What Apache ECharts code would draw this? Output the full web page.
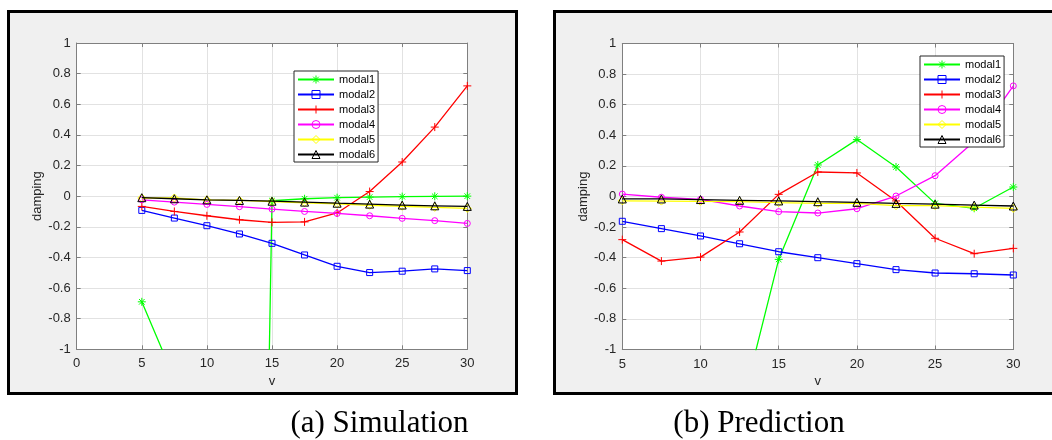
<!DOCTYPE html>
<html><head><meta charset="utf-8">
<script src="https://cdn.jsdelivr.net/npm/echarts@6.0.0/dist/echarts.min.js"></script>
<style>html,body{margin:0;padding:0;background:#fff}#c{width:1052px;height:440px}</style>
</head><body><div id="c"></div>
<script>
// ---- data ----
const vValues = [5, 7.5, 10, 12.5, 15, 17.5, 20, 22.5, 25, 27.5, 30];
const modalNames = ['modal1', 'modal2', 'modal3', 'modal4', 'modal5', 'modal6'];
const captions = ['(a) Simulation', '(b) Prediction'];
const xAxisName = 'v';
const yAxisName = 'damping';

// (a) Simulation
const simModal1 = [-0.69, -1.19, -3.0, -12.0, -0.03, -0.017, -0.01, -0.006, -0.003, -0.001, 0.0];
const simModal2 = [-0.093, -0.143, -0.193, -0.247, -0.308, -0.384, -0.458, -0.499, -0.49, -0.475, -0.486];
const simModal3 = [-0.067, -0.1, -0.128, -0.154, -0.171, -0.168, -0.11, 0.03, 0.223, 0.451, 0.72];
const simModal4 = [-0.024, -0.039, -0.054, -0.069, -0.085, -0.1, -0.113, -0.128, -0.145, -0.16, -0.178];
const simModal5 = [-0.012, -0.012, -0.024, -0.028, -0.035, -0.043, -0.05, -0.06, -0.066, -0.073, -0.08];
const simModal6 = [-0.01, -0.017, -0.024, -0.028, -0.033, -0.039, -0.046, -0.052, -0.058, -0.063, -0.067];

// (b) Prediction
const predModal1 = [-2.2, -2.0, -1.8, -1.43, -0.411, 0.206, 0.372, 0.193, -0.045, -0.077, 0.062];
const predModal2 = [-0.162, -0.21, -0.258, -0.309, -0.361, -0.4, -0.439, -0.478, -0.5, -0.505, -0.513];
const predModal3 = [-0.282, -0.422, -0.396, -0.232, 0.014, 0.16, 0.154, -0.029, -0.273, -0.374, -0.339];
const predModal4 = [0.016, -0.005, -0.019, -0.062, -0.099, -0.108, -0.08, 0.003, 0.136, 0.36, 0.723];
const predModal5 = [-0.028, -0.03, -0.032, -0.033, -0.04, -0.045, -0.045, -0.06, -0.06, -0.07, -0.078];
const predModal6 = [-0.016, -0.016, -0.02, -0.025, -0.029, -0.034, -0.038, -0.045, -0.05, -0.056, -0.062];

const simData = [simModal1, simModal2, simModal3, simModal4, simModal5, simModal6];
const predData = [predModal1, predModal2, predModal3, predModal4, predModal5, predModal6];

// ---- styles ----
const modalStyles = [
  {color: '#00ff00', symbol: 'path://M0,-10L0,10M-10,0L10,0M-7,-7L7,7M-7,7L7,-7', size: 8},
  {color: '#0000ff', symbol: 'rect', size: 6},
  {color: '#ff0000', symbol: 'path://M0,-10L0,10M-10,0L10,0', size: 8},
  {color: '#ff00ff', symbol: 'circle', size: 6},
  {color: '#ffff00', symbol: 'diamond', size: 8},
  {color: '#000000', symbol: 'triangle', size: 8}
];

const FONT = 'Liberation Sans';
const axisGray = '#7f7f7f';

function makeSeries(arr, i, g) {
  const s = modalStyles[i];
  return {
    name: modalNames[i], type: 'line',
    xAxisIndex: g * 2, yAxisIndex: g * 2,
    data: vValues.map((v, k) => [v, arr[k]]),
    symbol: s.symbol, symbolSize: s.size, showAllSymbol: true, clip: true,
    lineStyle: {color: s.color, width: 1.3},
    itemStyle: {color: 'rgba(0,0,0,0)', borderColor: s.color, borderWidth: 1},
    emphasis: {disabled: true},
    z: 2 + i * 0.1
  };
}

function xAxes(g, min) {
  const base = {gridIndex: g, type: 'value', min: min, max: 30, interval: 5};
  return [
    Object.assign({}, base, {
      position: 'bottom',
      axisLine: {show: true, onZero: false, lineStyle: {color: axisGray, width: 1}},
      axisTick: {show: true, inside: true, length: 4, lineStyle: {color: axisGray}},
      axisLabel: {color: '#262626', fontSize: 13, fontFamily: FONT, margin: 8},
      splitLine: {show: true, lineStyle: {color: '#e2e2e2', width: 1}},
      name: xAxisName, nameLocation: 'middle', nameGap: 25,
      nameTextStyle: {color: '#262626', fontSize: 13, fontFamily: FONT}
    }),
    Object.assign({}, base, {
      position: 'top',
      axisLine: {show: true, onZero: false, lineStyle: {color: axisGray, width: 1}},
      axisTick: {show: true, inside: true, length: 4, lineStyle: {color: axisGray}},
      axisLabel: {show: false}, splitLine: {show: false}
    })
  ];
}
function yAxes(g) {
  const base = {gridIndex: g, type: 'value', min: -1, max: 1, interval: 0.2};
  return [
    Object.assign({}, base, {
      position: 'left',
      axisLine: {show: true, onZero: false, lineStyle: {color: axisGray, width: 1}},
      axisTick: {show: true, inside: true, length: 4, lineStyle: {color: axisGray}},
      axisLabel: {color: '#262626', fontSize: 13, fontFamily: FONT, margin: 6},
      splitLine: {show: true, lineStyle: {color: '#e2e2e2', width: 1}},
      name: yAxisName, nameLocation: 'middle', nameGap: 28, nameRotate: 90,
      nameTextStyle: {color: '#262626', fontSize: 13, fontFamily: FONT}
    }),
    Object.assign({}, base, {
      position: 'right',
      axisLine: {show: true, onZero: false, lineStyle: {color: axisGray, width: 1}},
      axisTick: {show: true, inside: true, length: 4, lineStyle: {color: axisGray}},
      axisLabel: {show: false}, splitLine: {show: false}
    })
  ];
}

function legendAt(left, top) {
  return {
    data: modalNames, left: left, top: top, orient: 'vertical', z: 30,
    itemWidth: 36, itemHeight: 10, itemGap: 4,
    padding: [3, 3, 2, 3],
    backgroundColor: '#ffffff', borderColor: '#262626', borderWidth: 1,
    itemStyle: {color: 'rgba(0,0,0,0)', borderWidth: 1},
    textStyle: {fontSize: 11, color: '#000', fontFamily: FONT},
    selectedMode: false
  };
}

const chart = echarts.init(document.getElementById('c'), null, {renderer: 'canvas'});
chart.setOption({
  animation: false,
  backgroundColor: '#ffffff',
  graphic: [
    {type: 'rect', z: -10, shape: {x: 8.5, y: 11.5, width: 508, height: 382},
     style: {fill: '#f0f0f0', stroke: '#000', lineWidth: 3}},
    {type: 'rect', z: -10, shape: {x: 554.5, y: 11.5, width: 520, height: 382},
     style: {fill: '#f0f0f0', stroke: '#000', lineWidth: 3}},
    {type: 'text', z: 10, x: 379.5, y: 424,
     style: {text: captions[0], fontSize: 31, fontFamily: 'Liberation Serif', fill: '#000', align: 'center', verticalAlign: 'middle'}},
    {type: 'text', z: 10, x: 759, y: 424,
     style: {text: captions[1], fontSize: 31, fontFamily: 'Liberation Serif', fill: '#000', align: 'center', verticalAlign: 'middle'}}
  ],
  grid: [
    {left: 76.7, top: 43, width: 390.6, height: 306.3, show: true, backgroundColor: '#fff', borderWidth: 0},
    {left: 622.3, top: 43.5, width: 391, height: 306, show: true, backgroundColor: '#fff', borderWidth: 0}
  ],
  xAxis: [].concat(xAxes(0, 0), xAxes(1, 5)),
  yAxis: [].concat(yAxes(0), yAxes(1)),
  legend: [legendAt(294, 71), legendAt(920, 56)],
  series: [].concat(
    simData.map((arr, i) => makeSeries(arr, i, 0)),
    predData.map((arr, i) => makeSeries(arr, i, 1))
  )
});
</script>
</body></html>
